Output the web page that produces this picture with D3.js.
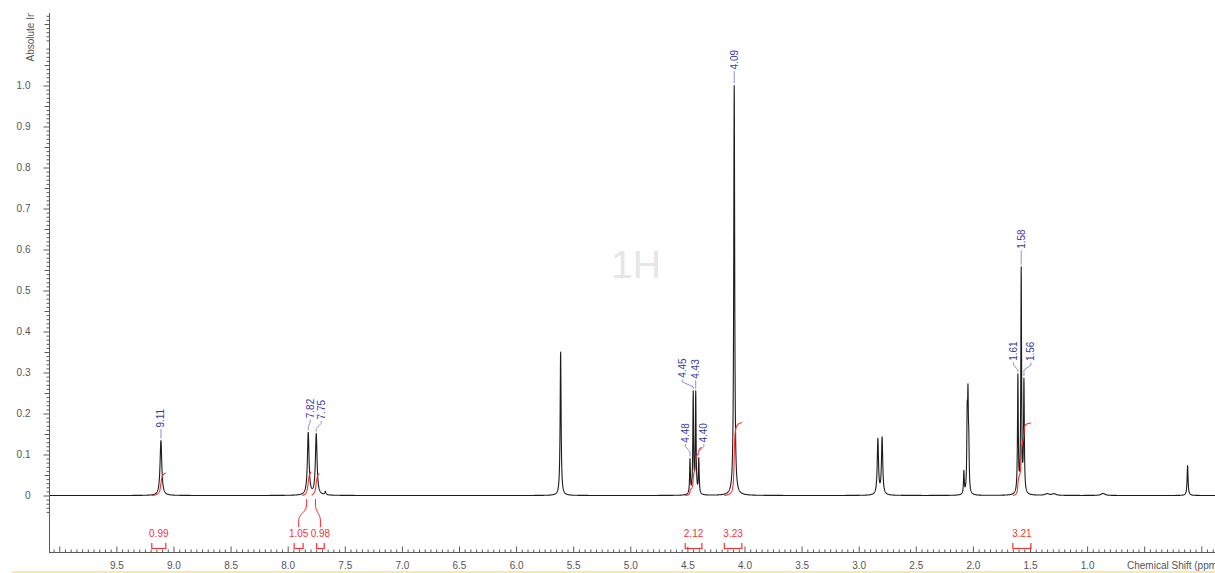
<!DOCTYPE html>
<html>
<head>
<meta charset="utf-8">
<script src="https://cdn.jsdelivr.net/npm/d3@7/dist/d3.min.js"></script>
<style>
  html, body { margin: 0; padding: 0; background: #ffffff; }
  svg { display: block; }
  text { font-family: "Liberation Sans", Arial, sans-serif; }
</style>
</head>
<body>
<svg id="chart" width="1215" height="573"></svg>
<script>
// ---------------- DATA ----------------
// Peak list (chemical shift in ppm, absolute intensity, Lorentzian half width in ppm)
const peakShift  = [9.110, 7.820, 7.750, 7.670, 5.610, 4.477, 4.449, 4.427, 4.400, 4.090, 2.832, 2.795, 2.079, 2.050, 2.043, 2.036, 1.606, 1.577, 1.553, 1.350, 1.290, 0.860, 0.120];
const peakHeight = [0.134, 0.152, 0.149, 0.008, 0.350, 0.083, 0.245, 0.245, 0.085, 1.000, 0.135, 0.139, 0.055, 0.170, 0.205, 0.100, 0.285, 0.545, 0.270, 0.004, 0.004, 0.005, 0.073];
const peakWidth  = [0.009, 0.0086, 0.0086, 0.006, 0.005, 0.004, 0.004, 0.004, 0.004, 0.005, 0.0066, 0.0066, 0.004, 0.004, 0.004, 0.004, 0.004, 0.004, 0.004, 0.020, 0.020, 0.020, 0.005];

// Picked peak labels
const peakLabels     = ["9.11", "7.82", "7.75", "4.48", "4.45", "4.43", "4.40", "4.09", "1.61", "1.58", "1.56"];
const peakLabelShift = [9.110, 7.820, 7.750, 4.477, 4.449, 4.427, 4.400, 4.090, 1.606, 1.577, 1.553];

// Integrals
const integralValues = [0.99, 1.05, 0.98, 2.12, 3.23, 3.21];
const integralFrom   = [9.190, 7.873, 7.790, 4.519, 4.177, 1.650];
const integralTo     = [9.067, 7.795, 7.724, 4.373, 4.023, 1.492];

// Axis ticks
const xTickLabels = [9.5, 9.0, 8.5, 8.0, 7.5, 7.0, 6.5, 6.0, 5.5, 5.0, 4.5, 4.0, 3.5, 3.0, 2.5, 2.0, 1.5, 1.0];
const yTickLabels = [0, 0.1, 0.2, 0.3, 0.4, 0.5, 0.6, 0.7, 0.8, 0.9, 1.0];

// ---------------- LAYOUT / STYLE ----------------
const W = 1215, H = 573;
const plotLeft = 49.5, axisY = 552.5, plotTop = 13;
const labelLayout = [ // dx (px from peak), gap (px between peak top and label bottom)
  {dx: 0, gap: 13}, {dx: 2, gap: 14}, {dx: 5, gap: 14}, {dx: -4.5, gap: 16}, {dx: -11, gap: 13},
  {dx: 0, gap: 12}, {dx: 5, gap: 15}, {dx: 0, gap: 16}, {dx: -4.5, gap: 13}, {dx: 0, gap: 18}, {dx: 7, gap: 17}
];
const bracketDx = [0, -8, 5, 0, 0, 0];
const integralScale = 0.0551; // intensity units per integral unit

const svg = d3.select("#chart");

const x = d3.scaleLinear().domain([10.09, -0.12]).range([49, 1215]);
const y = d3.scaleLinear().domain([0, 1]).range([495.5, 85.5]);

function spectrum(p) {
  let s = 0;
  for (let i = 0; i < peakShift.length; i++) {
    const d = (p - peakShift[i]) / peakWidth[i];
    s += peakHeight[i] / (1 + d * d);
  }
  return s;
}

// clip
svg.append("defs").append("clipPath").attr("id", "plotClip")
  .append("rect").attr("x", 50).attr("y", 0).attr("width", W - 50).attr("height", axisY - 1);
svg.select("defs").append("clipPath").attr("id", "ylabClip")
  .append("rect").attr("x", 0).attr("y", plotTop).attr("width", 45).attr("height", 200);

// bottom yellow strip
svg.append("rect").attr("x", 12).attr("y", 571).attr("width", W - 12).attr("height", 2).attr("fill", "#fbe9a3");

// watermark
svg.append("text").attr("x", 636).attr("y", 278).attr("text-anchor", "middle")
  .attr("font-size", 39).attr("fill", "#e6e6e6").text("1H");

// ---------------- AXES ----------------
const axisColor = "#5a5a5a";
const labelColor = "#555555";

const yMajor = yTickLabels;
const yMedium = d3.range(0.05, 1.16, 0.1).map(v => +v.toFixed(2));
const yMinor = d3.range(-4, 118).map(v => v / 100).filter(v => Math.round(v * 100) % 5 !== 0);

function styleAxis(g) {
  g.select(".domain").remove();
  g.selectAll(".tick line").attr("stroke", axisColor);
  g.selectAll(".tick text").attr("fill", labelColor).attr("font-size", 10)
    .attr("font-family", "'Liberation Sans', Arial, sans-serif");
}

svg.append("g").attr("transform", `translate(${plotLeft},0)`)
  .call(d3.axisLeft(y).tickValues(yMinor).tickSize(3).tickFormat("")).call(styleAxis);
svg.append("g").attr("transform", `translate(${plotLeft},0)`)
  .call(d3.axisLeft(y).tickValues(yMedium).tickSize(5).tickFormat("")).call(styleAxis);
svg.append("g").attr("transform", `translate(${plotLeft},0)`)
  .call(d3.axisLeft(y).tickValues(yMajor).tickSize(6).tickPadding(13)
    .tickFormat(d => d === 0 ? "0" : d3.format(".1f")(d))).call(styleAxis);

const xMinor = d3.range(-2, 202).map(v => v / 20).filter(v => v <= 10.06 && Math.round(v * 20) % 10 !== 0);
const xMajorAll = d3.range(0, 21).map(v => v / 2);

svg.append("g").attr("transform", `translate(0,${axisY})`)
  .call(d3.axisBottom(x).tickValues(xMinor).tickSize(-3).tickFormat("")).call(styleAxis);
svg.append("g").attr("transform", `translate(0,${axisY})`)
  .call(d3.axisBottom(x).tickValues(xMajorAll).tickSize(-6).tickFormat("")).call(styleAxis);
svg.append("g").attr("transform", `translate(0,${axisY})`)
  .call(d3.axisBottom(x).tickValues(xTickLabels).tickSize(0).tickPadding(9).tickFormat(d3.format(".1f"))).call(styleAxis);

// axis lines
svg.append("line").attr("x1", plotLeft).attr("x2", plotLeft).attr("y1", plotTop).attr("y2", axisY + 0.5)
  .attr("stroke", axisColor);
svg.append("line").attr("x1", plotLeft).attr("x2", W).attr("y1", axisY).attr("y2", axisY)
  .attr("stroke", axisColor);

// axis titles
svg.append("g").attr("clip-path", "url(#ylabClip)")
  .append("text").attr("transform", "translate(33.5,61.5) rotate(-90)")
  .attr("font-size", 10).attr("fill", "#555").text("Absolute Intensity");
svg.append("text").attr("x", 1127).attr("y", 569).attr("font-size", 10).attr("fill", "#555")
  .text("Chemical Shift (ppm)");

// ---------------- SPECTRUM ----------------
const samples = d3.range(10.09, -0.121, -0.001);
const line = d3.line().x(p => x(p)).y(p => y(spectrum(p)));
svg.append("g").attr("clip-path", "url(#plotClip)")
  .append("path").attr("d", line(samples)).attr("fill", "none")
  .attr("stroke", "#1c1c1c").attr("stroke-width", 1.1).attr("stroke-linejoin", "round");

// ---------------- INTEGRALS ----------------
const red = "#ff2e2e";
const gInt = svg.append("g");
integralValues.forEach((val, i) => {
  const pts = d3.range(integralFrom[i], integralTo[i] - 0.0005, -0.001);
  let cum = 0; const cs = [];
  pts.forEach(p => { cum += spectrum(p); cs.push(cum); });
  const total = cum;
  const iline = d3.line().x((p, k) => x(p)).y((p, k) => y(cs[k] / total * val * integralScale));
  gInt.append("path").attr("d", iline(pts)).attr("fill", "none").attr("stroke", red).attr("stroke-width", 1.1);

  const xa = x(integralFrom[i]) + bracketDx[i], xb = x(integralTo[i]) + bracketDx[i];
  const xc = (xa + xb) / 2;
  gInt.append("path").attr("d", `M${xa},543 L${xa},548.5 L${xb},548.5 L${xb},543`)
    .attr("fill", "none").attr("stroke", red).attr("stroke-width", 1.2);
  gInt.append("text").attr("x", xc).attr("y", 537).attr("text-anchor", "middle")
    .attr("font-size", 10).attr("fill", "#f03535").text(val.toFixed(2));
  if (bracketDx[i] !== 0) {
    const x0 = (x(integralFrom[i]) + x(integralTo[i])) / 2;
    gInt.append("path").attr("d", `M${x0},499 L${x0},504 C${x0},513 ${xc},513 ${xc},521 L${xc},527`)
      .attr("fill", "none").attr("stroke", red).attr("stroke-width", 1);
  }
});

// ---------------- PEAK LABELS ----------------
const gLab = svg.append("g");
peakLabels.forEach((lab, i) => {
  const px = x(peakLabelShift[i]);
  const top = y(spectrum(peakLabelShift[i]));
  const L = labelLayout[i];
  const lx = px + L.dx, lb = top - L.gap;
  let d;
  if (L.dx === 0) d = `M${px},${lb + 1.5} L${px},${top - 2}`;
  else d = `M${lx},${lb + 1.5} L${lx},${lb + 4} L${px},${lb + 9} L${px},${top - 2}`;
  gLab.append("path").attr("d", d).attr("fill", "none").attr("stroke", "#8e8ed6").attr("stroke-width", 1);
  gLab.append("text").attr("transform", `translate(${lx + 3.5},${lb}) rotate(-90)`)
    .attr("font-size", 10).attr("fill", "#3a3aa2").text(lab);
});
</script>
</body>
</html>
